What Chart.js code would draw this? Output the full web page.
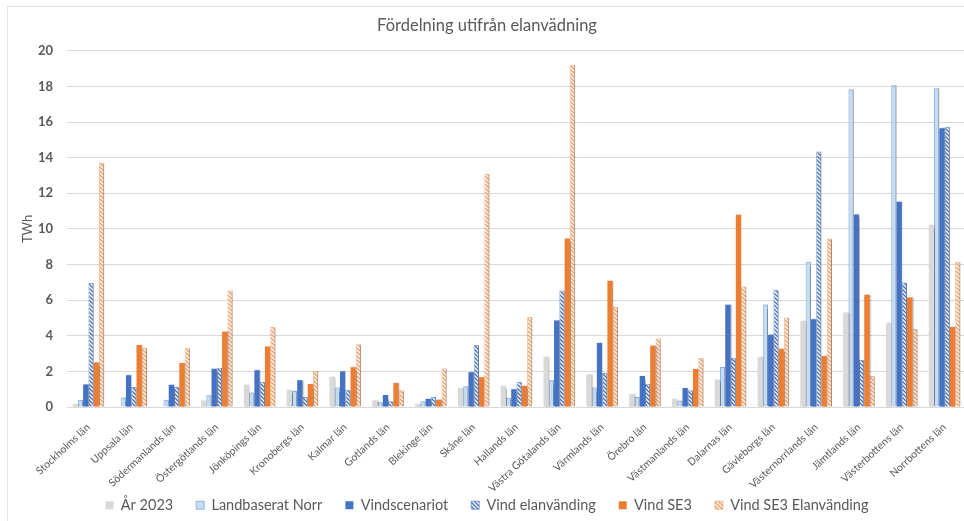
<!DOCTYPE html>
<html lang="sv">
<head>
<meta charset="utf-8">
<title>Fördelning utifrån elanvädning</title>
<script src="https://cdn.jsdelivr.net/npm/chart.js@4/dist/chart.umd.min.js"></script>
<style>
  html, body { margin: 0; padding: 0; background: #fff; overflow: hidden; }
  #wrap {
    position: absolute; left: 7px; top: 6px;
    width: 962px; height: 515px;
    border-left: 1px solid #e4e4e4; border-top: 1px solid #e4e4e4;
  }
</style>
</head>
<body>
<div id="wrap"><canvas id="fordelningChart"></canvas></div>
<script>
// Län
const lan = [
  'Stockholms län', 'Uppsala län', 'Södermanlands län', 'Östergötlands län',
  'Jönköpings län', 'Kronobergs län', 'Kalmar län', 'Gotlands län',
  'Blekinge län', 'Skåne län', 'Hallands län', 'Västra Götalands län',
  'Värmlands län', 'Örebro län', 'Västmanlands län', 'Dalarnas län',
  'Gävleborgs län', 'Västernorrlands län', 'Jämtlands län', 'Västerbottens län',
  'Norrbottens län'
];

// TWh per län och scenario
const ar2023 = [0.15, 0, 0, 0.36, 1.23, 0.97, 1.67, 0.36, 0.15, 1.07, 1.2,
  2.8, 1.82, 0.71, 0.47, 1.54, 2.8, 4.81, 5.29, 4.7, 10.21];
const landbaseratNorr = [0.41, 0.54, 0.41, 0.66, 0.81, 0.9, 1.09, 0.26, 0.32, 1.16, 0.52,
  1.5, 1.09, 0.56, 0.36, 2.24, 5.76, 8.15, 17.84, 18.06, 17.9];
const vindscenariot = [1.27, 1.78, 1.25, 2.15, 2.06, 1.5, 2.0, 0.67, 0.47, 1.95, 0.99,
  4.86, 3.59, 1.74, 1.07, 5.74, 4.06, 4.92, 10.81, 11.52, 15.65];
const vindElanvanding = [6.96, 1.12, 1.12, 2.21, 1.42, 0.56, 0.97, 0.32, 0.56, 3.48, 1.42,
  6.54, 1.91, 1.31, 0.94, 2.77, 6.58, 14.34, 2.66, 6.99, 15.74];
const vindSE3 = [2.5, 3.48, 2.47, 4.23, 3.39, 1.29, 2.23, 1.35, 0.41, 1.67, 1.2,
  9.46, 7.09, 3.44, 2.13, 10.79, 3.27, 2.86, 6.3, 6.15, 4.49];
const vindSE3Elanvanding = [13.72, 3.33, 3.33, 6.54, 4.49, 2.02, 3.52, 0.94, 2.17, 13.09, 5.05,
  19.22, 5.61, 3.85, 2.75, 6.77, 5.03, 9.46, 1.74, 4.38, 8.15];

const yTicks = { min: 0, max: 20, step: 2 };

// diagonal hatch used by the "elanvänding" series
function hatch(color) {
  const size = 4;
  const c = document.createElement('canvas');
  c.width = size; c.height = size;
  const g = c.getContext('2d');
  g.fillStyle = '#ffffff';
  g.fillRect(0, 0, size, size);
  g.strokeStyle = color;
  g.lineWidth = 1.4;
  g.beginPath();
  g.moveTo(0, 0); g.lineTo(size, size);
  g.moveTo(-size / 2, size / 2); g.lineTo(size / 2, size * 1.5);
  g.moveTo(size / 2, -size / 2); g.lineTo(size * 1.5, size / 2);
  g.stroke();
  return g.createPattern(c, 'repeat');
}

// soft shadow to the right of each bar
const barShadow = {
  id: 'barShadow',
  beforeDatasetsDraw(chart) {
    const ctx = chart.ctx;
    ctx.save();
    ctx.shadowColor = 'rgba(0,0,0,0.28)';
    ctx.shadowOffsetX = 1.2;
    ctx.shadowOffsetY = 0;
    ctx.shadowBlur = 1.5;
  },
  afterDatasetsDraw(chart) {
    chart.ctx.restore();
  }
};

// keep the legend strip compact so the plot gets the height
const compactLegend = {
  id: 'compactLegend',
  beforeInit(chart) {
    const legend = chart.legend;
    if (!legend) return;
    const fit = legend.fit;
    legend.fit = function () {
      fit.call(this);
      if (this.isHorizontal()) this.height = 47;
    };
  }
};

const textColor = '#595959';
const font = 'Lato, "Open Sans", sans-serif';

function bar(label, data, bg, border, bw) {
  return {
    label,
    data,
    backgroundColor: bg,
    borderColor: border || bg,
    borderWidth: bw || 0,
    barPercentage: 1,
    categoryPercentage: 0.74
  };
}

new Chart(document.getElementById('fordelningChart'), {
  type: 'bar',
  data: {
    labels: lan,
    datasets: [
      bar('År 2023', ar2023, '#d9d9d9'),
      bar('Landbaserat Norr', landbaseratNorr, '#c6dcf2', '#8fb4e3', 1),
      bar('Vindscenariot', vindscenariot, '#4472c4'),
      bar('Vind elanvänding', vindElanvanding, hatch('#4472c4'), 'rgba(68,114,196,0.6)', 1),
      bar('Vind SE3', vindSE3, '#ed7d31'),
      bar('Vind SE3 Elanvänding', vindSE3Elanvanding, hatch('#f19a5c'), 'rgba(237,125,49,0.45)', 1)
    ]
  },
  options: {
    responsive: true,
    maintainAspectRatio: false,
    animation: false,
    layout: {
      padding: { left: 0, right: 4, top: 0, bottom: 0 }
    },
    plugins: {
      title: {
        display: true,
        text: 'Fördelning utifrån elanvädning',
        color: textColor,
        font: { family: font, size: 16.5, weight: 'normal' },
        padding: { top: 9, bottom: 15 }
      },
      legend: {
        position: 'bottom',
        labels: {
          color: textColor,
          font: { family: font, size: 14.5 },
          boxWidth: 8,
          boxHeight: 8,
          padding: 23
        }
      },
      tooltip: { enabled: false }
    },
    scales: {
      x: {
        grid: { display: false },
        border: { color: '#d9d9d9' },
        afterFit(scale) {
          scale.height = 68;
          // long rotated names may run below the axis box
          scale._computeLabelArea = () => undefined;
        },
        ticks: {
          color: textColor,
          minRotation: 43,
          maxRotation: 43,
          autoSkip: false,
          padding: 6,
          font: { family: font, size: 10.5 }
        }
      },
      y: {
        min: yTicks.min,
        max: yTicks.max,
        afterFit(scale) { scale.width = 59; },
        ticks: {
          stepSize: yTicks.step,
          color: textColor,
          padding: 14,
          font: { family: font, size: 13, weight: 'bold' }
        },
        grid: { color: '#d9d9d9', drawTicks: false },
        border: { display: false },
        title: {
          display: true,
          text: 'TWh',
          color: textColor,
          padding: { top: 12, bottom: 0 },
          font: { family: font, size: 13 }
        }
      }
    }
  },
  plugins: [barShadow, compactLegend]
});
</script>
</body>
</html>
